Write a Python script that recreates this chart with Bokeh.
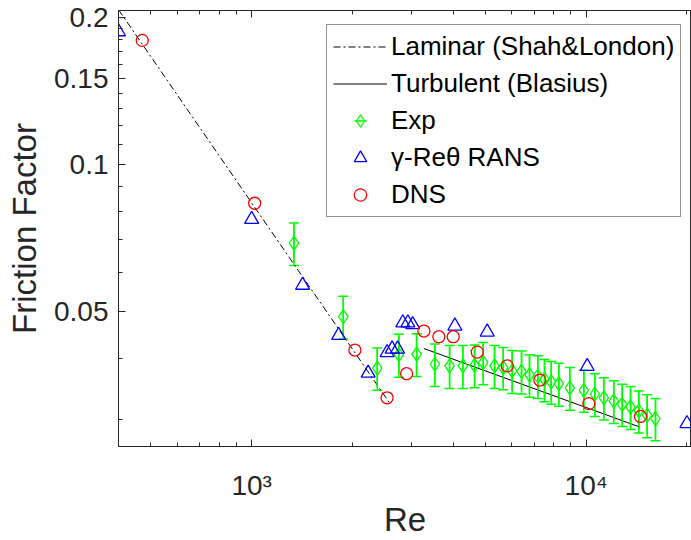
import math
from bokeh.plotting import figure
from bokeh.models import (Range1d, LogAxis, FixedTicker, Legend, LegendItem,
                          Whisker, TeeHead, ColumnDataSource)
from bokeh.embed import file_html
from bokeh.resources import INLINE

# ---------------- data ----------------
lam_re = [400, 2600]
lam_f = [0.2075, 0.0322]

turb_re = [3270, 14500]
turb_f = [0.0419, 0.0289]

exp_re = [1338, 1879, 2374, 2755, 3112, 3529, 3905, 4279, 4638, 4923,
          5321, 5649, 6008, 6407, 6769, 7168, 7506, 7860, 8283, 8933,
          9838, 10610, 11288, 12090, 12810, 13565, 14365, 15213, 16110]
exp_f = [0.0689, 0.0487, 0.0382, 0.0407, 0.0408, 0.0389, 0.0386, 0.0386, 0.0387, 0.0392,
         0.0386, 0.0383, 0.0377, 0.0376, 0.0370, 0.0368, 0.0362, 0.0358, 0.0355, 0.0348,
         0.0344, 0.0338, 0.0332, 0.0327, 0.0322, 0.0318, 0.0312, 0.0306, 0.0301]
exp_err = [0.0069, 0.0049, 0.0038, 0.0041, 0.0041, 0.0039, 0.0039, 0.0039, 0.0039, 0.0039,
           0.0039, 0.0038, 0.0038, 0.0038, 0.0037, 0.0037, 0.0036, 0.0036, 0.0036, 0.0035,
           0.0034, 0.0034, 0.0033, 0.0033, 0.0032, 0.0032, 0.0031, 0.0031, 0.0030]

rans_re = [400, 1000, 1420, 1820, 2230, 2540, 2630, 2730, 2830, 2930, 3030,
           4050, 5060, 10070, 20000]
rans_f = [0.187, 0.0771, 0.0565, 0.0446, 0.0373, 0.0411, 0.0418, 0.0418, 0.0473,
          0.0473, 0.0469, 0.0466, 0.0453, 0.0385, 0.0294]

dns_re = [471, 1021, 2035, 2540, 2905, 3272, 3627, 4005, 4724, 5808, 7267, 10180, 14530]
dns_f = [0.1795, 0.0832, 0.0416, 0.0332, 0.0372, 0.0455, 0.0443, 0.0443, 0.0412,
         0.0386, 0.0361, 0.0323, 0.0304]

x_major = [1000, 10000]
x_minor = [500, 600, 700, 800, 900, 2000, 3000, 4000, 5000, 6000, 7000, 8000, 9000, 20000]
x_labels = {1000: "10³", 10000: "10⁴"}

y_major = [0.05, 0.1, 0.15, 0.2]
y_minor = [0.03, 0.04, 0.06, 0.07, 0.08, 0.09, 0.11, 0.12, 0.13, 0.14,
           0.16, 0.17, 0.18, 0.19]
y_labels = {0.05: "0.05", 0.1: "0.1", 0.15: "0.15", 0.2: "0.2"}

# ---------------- styling ----------------
FONT = "Liberation Sans"
AX = "#262626"
GREEN = "#00ff00"
BLUE = "#0000ff"
RED = "#ff0000"

p = figure(width=691, height=540, x_axis_type="log", y_axis_type="log",
           x_range=Range1d(400, 20640), y_range=Range1d(0.02638, 0.2067),
           output_backend="svg", toolbar_location=None,
           min_border_left=118, min_border_right=0, min_border_top=10,
           min_border_bottom=94)
p.grid.visible = False
p.outline_line_color = AX
p.outline_line_width = 1
p.background_fill_color = "white"
p.border_fill_color = "white"

# lines
r_lam = p.line(lam_re, lam_f, line_color="black", line_width=1, line_dash="7 3 2 3")
r_turb = p.line(turb_re, turb_f, line_color="black", line_width=1)

# experiment with error bars
src = ColumnDataSource(dict(
    x=exp_re, y=exp_f,
    lo=[f - e for f, e in zip(exp_f, exp_err)],
    hi=[f + e for f, e in zip(exp_f, exp_err)]))
wh = Whisker(base="x", lower="lo", upper="hi", dimension="height", source=src,
             line_color=GREEN, line_width=1.5,
             upper_head=TeeHead(size=10, line_color=GREEN, line_width=1.5),
             lower_head=TeeHead(size=10, line_color=GREEN, line_width=1.5))
p.add_layout(wh)
r_exp_bar = p.scatter("x", "y", source=src, marker="dash", angle=math.pi / 2, size=38,
                      line_color=GREEN, line_width=1.5)
r_exp = p.scatter("x", "y", source=src, marker="diamond", size=14,
                  fill_color=None, line_color=GREEN, line_width=1.3)

r_rans = p.scatter(rans_re, rans_f, marker="triangle", size=14,
                   fill_color=None, line_color=BLUE, line_width=1.3)
r_dns = p.scatter(dns_re, dns_f, marker="circle", size=12,
                  fill_color=None, line_color=RED, line_width=1.3)

# axes
def style_axis(ax):
    ax.axis_line_color = AX
    ax.axis_line_width = 1
    ax.major_tick_line_color = AX
    ax.minor_tick_line_color = AX
    ax.major_tick_in = 7
    ax.major_tick_out = 0
    ax.minor_tick_in = 4
    ax.minor_tick_out = 0
    ax.major_label_text_font = FONT
    ax.major_label_text_color = AX
    ax.axis_label_text_font = FONT
    ax.axis_label_text_color = AX
    ax.axis_label_text_font_style = "normal"

xa = p.xaxis[0]
style_axis(xa)
xa.ticker = FixedTicker(ticks=x_major, minor_ticks=x_minor)
xa.major_label_overrides = x_labels
xa.major_label_text_font_size = "28px"
xa.major_label_standoff = 23
xa.axis_label = "Re"
xa.axis_label_text_font_size = "33px"
xa.axis_label_standoff = -3

ya = p.yaxis[0]
style_axis(ya)
ya.ticker = FixedTicker(ticks=y_major, minor_ticks=y_minor)
ya.major_label_overrides = y_labels
ya.major_label_text_font_size = "28px"
ya.major_label_standoff = 10
ya.axis_label = "Friction Factor"
ya.axis_label_text_font_size = "33px"
ya.axis_label_standoff = 8

top = LogAxis(ticker=FixedTicker(ticks=x_major, minor_ticks=x_minor))
style_axis(top)
top.major_label_text_font_size = "1px"
top.major_label_text_alpha = 0
top.major_label_standoff = 0
p.add_layout(top, "above")

legend = Legend(items=[
    LegendItem(label="Laminar (Shah&London)", renderers=[r_lam]),
    LegendItem(label="Turbulent (Blasius)", renderers=[r_turb]),
    LegendItem(label="Exp", renderers=[r_exp_bar, r_exp]),
    LegendItem(label="γ-Reθ RANS", renderers=[r_rans]),
    LegendItem(label="DNS", renderers=[r_dns]),
], location=(208, 229))
legend.label_text_font = FONT
legend.label_text_font_size = "26px"
legend.label_text_color = "black"
legend.label_height = 31
legend.glyph_height = 31
legend.glyph_width = 54
legend.label_standoff = 4
legend.spacing = 6
legend.padding = 6
legend.margin = 0
legend.border_line_color = AX
legend.border_line_width = 1
legend.background_fill_color = "white"
legend.background_fill_alpha = 1
p.add_layout(legend)

open("out.html", "w").write(file_html(p, INLINE))
